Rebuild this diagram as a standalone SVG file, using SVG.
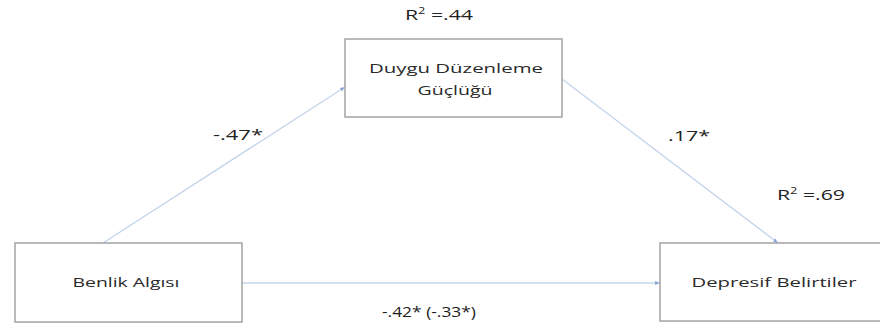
<svg xmlns="http://www.w3.org/2000/svg" width="880" height="331" viewBox="0 0 880 331">
<style>
.box{fill:#fff;stroke:#a3a3a3;stroke-width:1.5}
.lbl{font-family:"Open Sans","Liberation Sans",Arial,sans-serif;font-size:13.5px;fill:#2a2a2a;text-anchor:middle}
.num{font-family:"Open Sans","Liberation Sans",Arial,sans-serif;font-size:15px;fill:#222}
.edge{stroke:#c3d4ea;stroke-width:1.3;fill:none;marker-end:url(#arr)}
</style>
<defs>
<marker id="arr" viewBox="0 0 10 10" refX="10" refY="5" markerWidth="5" markerHeight="5" orient="auto" markerUnits="userSpaceOnUse">
<path d="M0,1 L10,5 L0,9 z" fill="#8aa8d4"/>
</marker>
</defs>
<rect width="880" height="331" fill="#fff"/>
<g id="connectors">
<line class="edge" x1="103" y1="243" x2="345" y2="87"/>
<line class="edge" x1="562" y1="79" x2="778" y2="243"/>
<line class="edge" x1="242" y1="283" x2="660" y2="283"/>
</g>
<g id="node-duygu">
<rect class="box" x="345" y="39" width="217" height="78"/>
<text class="lbl" x="456" y="73" textLength="174" lengthAdjust="spacingAndGlyphs">Duygu Düzenleme</text>
<text class="lbl" x="455" y="95" textLength="75" lengthAdjust="spacingAndGlyphs">Güçlüğü</text>
</g>
<g id="node-benlik">
<rect class="box" x="15" y="243" width="227" height="79"/>
<text class="lbl" x="126" y="287" textLength="107" lengthAdjust="spacingAndGlyphs">Benlik Algısı</text>
</g>
<g id="node-depresif">
<rect class="box" x="660" y="243" width="230" height="78"/>
<text class="lbl" x="774" y="287" textLength="165" lengthAdjust="spacingAndGlyphs">Depresif Belirtiler</text>
</g>
<g id="labels">
<text class="num" x="405" y="20" textLength="68" lengthAdjust="spacingAndGlyphs">R<tspan font-size="9" dy="-6">2</tspan><tspan dy="6"> =.44</tspan></text>
<text class="num" x="213" y="140" textLength="50" lengthAdjust="spacingAndGlyphs">-.47*</text>
<text class="num" x="668" y="141" textLength="42" lengthAdjust="spacingAndGlyphs">.17*</text>
<text class="num" x="777" y="200" textLength="68" lengthAdjust="spacingAndGlyphs">R<tspan font-size="9" dy="-6">2</tspan><tspan dy="6"> =.69</tspan></text>
<text class="num" x="382" y="317" textLength="94" lengthAdjust="spacingAndGlyphs">-.42* (-.33*)</text>
</g>
</svg>
